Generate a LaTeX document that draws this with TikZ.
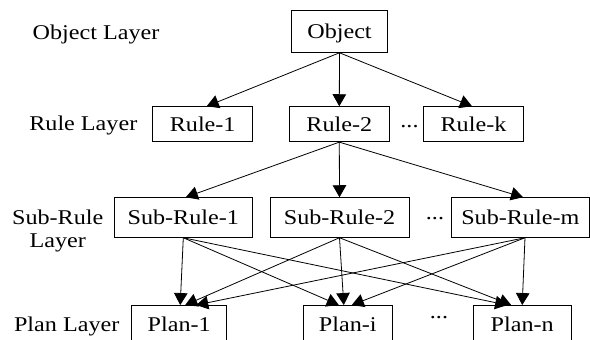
\documentclass[tikz,border=0pt]{standalone}
\usepackage{fontspec}
\setmainfont{Liberation Serif}[FakeStretch=1.15]
\usetikzlibrary{arrows.meta}
\begin{document}
\begin{tikzpicture}[x=1pt,y=-1pt,
  every node/.style={font=\fontsize{21}{23.3}\selectfont, inner sep=0pt},
  box/.style={draw, line width=0.9pt, text height=14pt, text depth=0pt, minimum height=35pt},
  lbl/.style={text height=14pt, text depth=0pt},
  conn/.style={line width=0.8pt, -{Triangle[length=12pt,width=13.5pt]}}]
\path[use as bounding box, clip] (0,0) rectangle (590,340);
% boxes
\node[box, minimum width=95.6pt, minimum height=42.3pt] (obj) at (339.5,31.2) {Object};
\node[box, minimum width=100pt] (r1) at (202.7,124.2) {Rule-1};
\node[box, minimum width=100pt] (r2) at (339.3,124.2) {Rule-2};
\node[box, minimum width=100.4pt] (rk) at (473.5,124.2) {Rule-k};
\node[box, minimum width=138.7pt, minimum height=39.6pt] (s1) at (183.3,217.5) {Sub-Rule-1};
\node[box, minimum width=139pt, minimum height=39.6pt] (s2) at (339.5,217.5) {Sub-Rule-2};
\node[box, minimum width=137.3pt, minimum height=39.6pt] (sm) at (520.3,217.5) {Sub-Rule-m};
\node[box, minimum width=95pt, minimum height=37pt] (p1) at (179.2,324) {Plan-1};
\node[box, minimum width=89pt, minimum height=37pt] (pi) at (347.8,324) {Plan-i};
\node[box, minimum width=97.7pt, minimum height=37pt] (pn) at (522.2,324) {Plan-n};
% layer labels
\node[lbl] (lobj) at (96,32) {Object Layer};
\node[lbl] (lrule) at (83.3,123) {Rule Layer};
\node[align=center] (lsub) at (57.7,230.8) {Sub-Rule\\Layer};
\node[lbl] (lplan) at (66.7,324) {Plan Layer};
% ellipses
\node[lbl] (d1) at (409.5,120) {...};
\node[lbl] (d2) at (435,212.3) {...};
\node[lbl] (d3) at (439,311.3) {...};
% connectors
\draw[conn] (obj.south) -- ([xshift=4pt]r1.north);
\draw[conn] (obj.south) -- (r2.north);
\draw[conn] (obj.south) -- ([xshift=-1.5pt]rk.north);
\draw[conn] (r2.south) -- ([xshift=2.5pt]s1.north);
\draw[conn] (r2.south) -- (s2.north);
\draw[conn] (r2.south) -- ([xshift=2.7pt]sm.north);
\draw[conn] (s1.south) -- ([xshift=1pt]p1.north);
\draw[conn] (s1.south) -- ([xshift=-9pt]pi.north);
\draw[conn] (s1.south) -- ([xshift=-15pt]pn.north);
\draw[conn] (s2.south) -- ([xshift=6pt]p1.north);
\draw[conn] (s2.south) -- ([xshift=-4pt]pi.north);
\draw[conn] (s2.south) -- ([xshift=-11pt]pn.north);
\draw[conn] ([xshift=4.7pt]sm.south) -- ([xshift=17pt]p1.north);
\draw[conn] ([xshift=4.7pt]sm.south) -- ([xshift=4pt]pi.north);
\draw[conn] ([xshift=4.7pt]sm.south) -- (pn.north);
\end{tikzpicture}
\end{document}
